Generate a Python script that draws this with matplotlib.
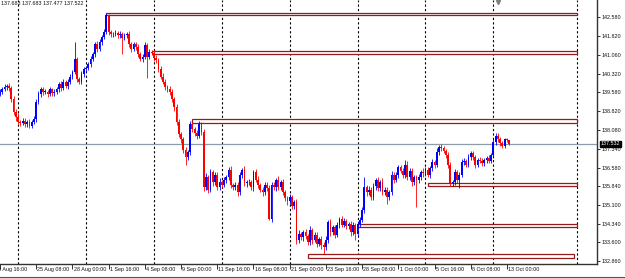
import numpy as np
import matplotlib
matplotlib.use("Agg")
import matplotlib.pyplot as plt
import matplotlib.transforms as mtransforms
from matplotlib.patches import Rectangle

plt.rcParams['font.family'] = ['Liberation Sans', 'DejaVu Sans']

# H4 closes, one per bar
close = [
    139.60, 139.70, 139.80, 139.85, 139.75, 139.30, 138.80, 138.60, 138.40, 138.35,
    138.45, 138.30, 138.40, 138.25, 138.40, 138.50, 139.20, 139.50, 139.70, 139.60,
    139.60, 139.50, 139.70, 139.55, 139.60, 139.70, 139.90, 139.75, 140.00, 139.85,
    140.00, 140.20, 140.40, 140.90, 140.10, 140.00, 140.30, 140.50, 140.55, 140.70,
    140.90, 141.10, 141.50, 141.30, 141.60, 141.80, 142.00, 142.65, 141.98, 141.90,
    141.90, 141.95, 141.85, 141.90, 141.75, 141.85, 141.90, 141.50, 141.30, 141.50,
    141.40, 141.10, 140.90, 141.00, 141.45, 141.00, 141.20, 141.15, 140.95, 140.85,
    140.50, 140.20, 140.00, 139.80, 139.70, 139.60, 139.30, 139.00, 138.40, 137.90,
    137.70, 137.30, 137.00, 137.20, 138.30, 138.10, 137.95, 137.85, 138.30, 138.00,
    135.80, 136.20, 135.70, 136.40, 136.00, 136.30, 135.80, 136.00, 135.90, 136.10,
    136.20, 136.50, 135.90, 135.80, 135.90, 135.60, 136.30, 136.50, 135.95, 136.00,
    136.00, 135.80, 136.40, 136.10, 135.90, 135.70, 135.60, 135.90, 135.75, 134.55,
    135.90, 135.80, 136.10, 135.80, 136.00, 135.60, 135.35, 135.25, 135.40, 135.05,
    135.20, 133.70, 133.95, 133.80, 134.00, 133.85, 133.60, 134.10, 133.70, 133.90,
    133.55, 133.75, 133.50, 133.40, 133.70, 134.40, 134.00, 134.20, 133.90, 134.30,
    134.55, 134.30, 134.45, 134.25, 134.35, 134.00, 134.30, 133.95, 134.35, 134.50,
    134.90, 135.80, 135.60, 135.70, 135.40, 135.85, 136.10, 135.75, 136.00, 135.60,
    135.70, 135.40, 135.60, 136.30, 136.10, 136.30, 136.60, 136.45, 136.30, 136.70,
    136.20, 136.45, 136.00, 136.20, 136.10, 136.20, 136.40, 136.35, 136.50, 136.30,
    136.55, 136.80, 136.70, 137.20, 137.40, 137.35, 137.25, 137.10, 136.70, 135.95,
    136.00, 136.40, 136.10, 136.30, 136.80, 136.85, 136.70, 137.00, 137.15, 137.00,
    136.70, 136.90, 136.85, 136.75, 136.90, 136.95, 136.85, 137.10, 137.60, 137.85,
    137.70, 137.55, 137.45, 137.70, 137.683, 137.522,
]
first_open = 139.50

wick_up = [
    .10, .08, .12, .06, .10, .08, .12, .10, .15, .08,
    .10, .12, .08, .10, .06, .12, .10, .15, .08, .10,
    .12, .08, .10, .06, .12, .10, .08, .12, .10, .08,
    .10, .12, .08, .70, .10, .08, .12, .10, .06, .10,
    .12, .10, .08, .12, .10, .08, .12, .10, .06, .10,
    .08, .10, .06, .12, .08, .10, .08, .12, .10, .08,
    .10, .12, .08, .10, .12, .08, .10, .06, .12, .10,
    .10, .12, .15, .10, .08, .12, .10, .08, .12, .10,
    .10, .08, .12, .10, .15, .10, .08, .12, .15, .10,
    .12, .15, .10, .12, .08, .10, .12, .15, .08, .10,
    .10, .12, .15, .08, .10, .12, .10, .08, .15, .10,
    .12, .08, .10, .12, .15, .08, .10, .12, .10, .15,
    .10, .12, .08, .15, .10, .12, .10, .08, .12, .10,
    .10, .12, .15, .08, .10, .12, .10, .15, .08, .12,
    .10, .08, .12, .10, .15, .10, .12, .08, .10, .12,
    .08, .10, .12, .10, .08, .12, .10, .08, .12, .10,
    .12, .40, .10, .15, .10, .12, .08, .12, .10, .15,
    .10, .12, .08, .15, .10, .12, .10, .08, .12, .20,
    .15, .10, .12, .10, .08, .12, .10, .15, .10, .12,
    .10, .12, .08, .15, .10, .12, .10, .08, .12, .10,
    .10, .12, .08, .10, .12, .10, .08, .12, .10, .08,
    .10, .08, .12, .10, .08, .10, .12, .08, .10, .12,
    .10, .08, .10, .06, .05, .00,
]
wick_dn = [
    .08, .10, .06, .12, .10, .10, .12, .15, .10, .12,
    .08, .10, .12, .10, .08, .10, .12, .08, .10, .12,
    .10, .12, .08, .10, .12, .08, .10, .12, .08, .10,
    .12, .10, .08, .10, .12, .10, .08, .12, .10, .08,
    .10, .08, .12, .10, .08, .12, .10, .08, .12, .10,
    .10, .08, .12, .10, .65, .08, .10, .12, .10, .08,
    .12, .10, .08, .12, .10, .85, .10, .08, .12, .10,
    .12, .10, .08, .12, .10, .12, .10, .15, .12, .10,
    .12, .15, .30, .10, .12, .10, .12, .15, .10, .12,
    .15, .10, .12, .08, .15, .12, .10, .12, .15, .10,
    .12, .10, .15, .10, .12, .15, .10, .12, .10, .15,
    .10, .12, .15, .10, .12, .10, .15, .10, .12, .05,
    .12, .10, .15, .10, .12, .10, .12, .15, .10, .12,
    .10, .15, .12, .10, .15, .12, .10, .12, .15, .10,
    .12, .10, .15, .25, .10, .12, .15, .10, .12, .10,
    .12, .10, .08, .12, .10, .15, .12, .25, .10, .12,
    .10, .12, .15, .10, .12, .10, .15, .12, .10, .12,
    .12, .25, .10, .12, .15, .10, .12, .10, .15, .12,
    .10, .12, .15, .10, 1.10, .12, .10, .15, .12, .10,
    .12, .10, .15, .08, .10, .12, .10, .12, .15, .10,
    .12, .10, .15, .35, .10, .12, .10, .08, .12, .10,
    .12, .10, .08, .12, .10, .12, .10, .08, .12, .10,
    .08, .10, .08, .10, .10, .045,
]

time_labels = ["20 Aug 16:00", "25 Aug 08:00", "28 Aug 00:00", "1 Sep 16:00",
               "4 Sep 08:00", "9 Sep 00:00", "11 Sep 16:00", "16 Sep 08:00",
               "21 Sep 00:00", "23 Sep 16:00", "28 Sep 08:00", "1 Oct 00:00",
               "5 Oct 16:00", "8 Oct 08:00", "13 Oct 00:00"]
label_bars = [0, 16, 32, 48, 64, 80, 96, 112, 128, 144, 160, 176, 192, 208, 224]
week_bars = [8, 38, 68, 98, 128, 158, 188, 218, 255]

price_ticks = [142.580, 141.820, 141.060, 140.320, 139.580, 138.820, 138.080,
               137.340, 136.580, 135.840, 135.100, 134.340, 133.600, 132.860]

# support / resistance zones: start bar, end bar, low, high
zone_start = [47, 67, 85, 189, 158, 136]
zone_end = [255, 255, 255, 255, 255, 253.7]
zone_low = [142.65, 141.11, 138.35, 135.83, 134.20, 132.97]
zone_high = [142.75, 141.23, 138.50, 135.95, 134.32, 133.13]

bid = 137.522
bid_label = "137.532"
ohlc_text = "137.683 137.683 137.477 137.522"

# ---------------------------------------------------------------
close = np.array(close)
opens = np.concatenate([[first_open], close[:-1]])
hi = np.maximum(opens, close) + np.array(wick_up)
lo = np.minimum(opens, close) - np.array(wick_dn)
x = np.arange(len(close))

fig = plt.figure(figsize=(6.25, 2.78), dpi=100)
ax = fig.add_axes([0, 14 / 278, 597 / 625, 264 / 278])

for gx in week_bars:
    ax.axvline(gx, color='black', lw=0.8, ls=(0, (2, 2)), zorder=1)

for s, e, l, h in zip(zone_start, zone_end, zone_low, zone_high):
    ax.add_patch(Rectangle((s, l), e - s, h - l, facecolor='white',
                           edgecolor='#951c1c', lw=0.9, zorder=2))

ax.axhline(bid, color='#8d9cab', lw=0.9, zorder=3)

up = close >= opens
colors = np.where(up, '#0000ff', '#ff0000')
ax.vlines(x, lo, hi, colors=colors, lw=0.6, zorder=4)
body = np.maximum(np.abs(close - opens), 0.02)
ax.bar(x, body, bottom=np.minimum(opens, close), width=0.8,
       color=colors, linewidth=0, zorder=5)

ax.set_xlim(1.97, 263.8)
ax.set_ylim(132.74, 143.257)

for sp in ['top', 'left']:
    ax.spines[sp].set_visible(False)
for sp in ['right', 'bottom']:
    ax.spines[sp].set_color('#333333')
    ax.spines[sp].set_linewidth(1.0)

ax.yaxis.tick_right()
ax.set_yticks(price_ticks)
ax.set_yticklabels(["%.3f" % p for p in price_ticks])
ax.tick_params(axis='y', direction='out', length=2, width=0.6, pad=1.5,
               labelsize=3.9, colors='#111111')

# time axis: ticks plus left-aligned labels just right of each tick
ax.set_xticks(label_bars)
ax.set_xticklabels([])
ax.tick_params(axis='x', direction='out', length=3.5, width=0.6, colors='#111111')
xtrans = mtransforms.blended_transform_factory(ax.transData, ax.transAxes)
for i, (b, t) in enumerate(zip(label_bars, time_labels)):
    dx = 1.2 if i > 0 else -5.0   # first label runs off the left edge
    shift = mtransforms.ScaledTranslation(dx / 100, -5.5 / 100, fig.dpi_scale_trans)
    ax.text(b, 0, t, transform=xtrans + shift, fontsize=3.9, color='#111111',
            ha='left', va='center', clip_on=False)

# current price tag
trans = mtransforms.blended_transform_factory(ax.transAxes, ax.transData)
ax.text(1.006, bid, bid_label, transform=trans, fontsize=3.9, color='white',
        va='center', ha='left', zorder=10,
        bbox=dict(boxstyle='square,pad=0.15', facecolor='black', edgecolor='black'))

ax.text(0.001, 0.995, ohlc_text, transform=ax.transAxes, fontsize=3.9,
        color='#111111', va='top', ha='left')

# chart shift marker
ax.plot([220], [0.992], marker='v', markersize=3, color='#808080',
        transform=mtransforms.blended_transform_factory(ax.transData, ax.transAxes),
        clip_on=False, zorder=10)

fig.add_artist(plt.Line2D([0, 1], [1.5 / 278, 1.5 / 278], color='#555555', lw=0.8))

fig.savefig("out.png", dpi=100)
